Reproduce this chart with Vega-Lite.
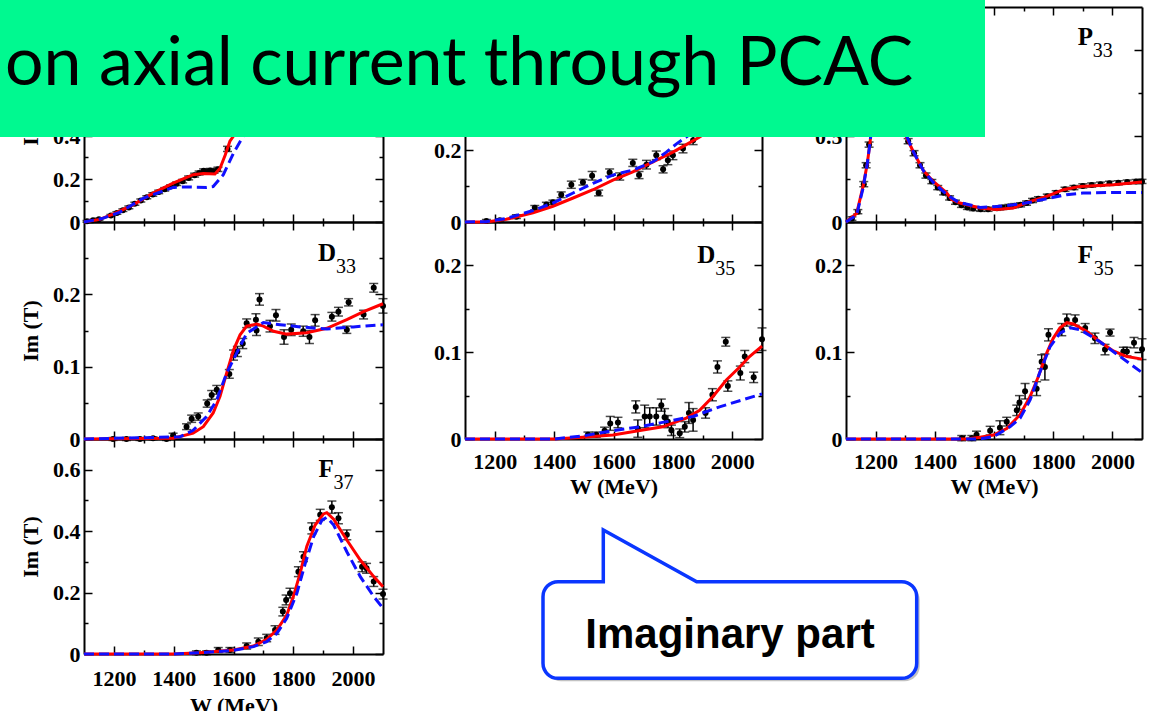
{
  "$schema": "https://vega.github.io/schema/vega-lite/v6.json",
  "width": 1149,
  "height": 711,
  "autosize": "none",
  "padding": 0,
  "background": "white",
  "config": {
    "view": {"stroke": null},
    "axis": {
      "grid": false,
      "domainColor": "black",
      "domainWidth": 2,
      "tickColor": "black",
      "tickWidth": 1.5,
      "labelFont": "Liberation Serif",
      "labelFontWeight": "bold",
      "labelFontSize": 22,
      "labelColor": "black",
      "labelFlush": false,
      "labelOverlap": false,
      "titleFont": "Liberation Serif",
      "titleFontWeight": "bold",
      "titleFontSize": 22,
      "titleColor": "black"
    }
  },
  "datasets": {
    "curves": [
      {"panel":"S31","model":"A","W":1100,"ImT":0},{"panel":"S31","model":"A","W":1153,"ImT":0.012},{"panel":"S31","model":"A","W":1203,"ImT":0.04},{"panel":"S31","model":"A","W":1264,"ImT":0.08},{"panel":"S31","model":"A","W":1331,"ImT":0.134},{"panel":"S31","model":"A","W":1398,"ImT":0.181},{"panel":"S31","model":"A","W":1465,"ImT":0.22},{"panel":"S31","model":"A","W":1499,"ImT":0.226},{"panel":"S31","model":"A","W":1538,"ImT":0.223},{"panel":"S31","model":"A","W":1555,"ImT":0.25},{"panel":"S31","model":"A","W":1572,"ImT":0.31},{"panel":"S31","model":"A","W":1588,"ImT":0.376},{"panel":"S31","model":"A","W":1600,"ImT":0.4},{"panel":"S31","model":"A","W":1620,"ImT":0.47},{"panel":"S31","model":"A","W":1650,"ImT":0.58},{"panel":"S31","model":"A","W":1700,"ImT":0.66},{"panel":"S31","model":"A","W":1800,"ImT":0.7},{"panel":"S31","model":"A","W":1900,"ImT":0.66},{"panel":"S31","model":"A","W":2000,"ImT":0.6},{"panel":"S31","model":"A","W":2100,"ImT":0.55},
      {"panel":"S31","model":"B","W":1100,"ImT":0},{"panel":"S31","model":"B","W":1160,"ImT":0.016},{"panel":"S31","model":"B","W":1219,"ImT":0.045},{"panel":"S31","model":"B","W":1298,"ImT":0.11},{"panel":"S31","model":"B","W":1398,"ImT":0.161},{"panel":"S31","model":"B","W":1443,"ImT":0.163},{"panel":"S31","model":"B","W":1510,"ImT":0.161},{"panel":"S31","model":"B","W":1532,"ImT":0.165},{"panel":"S31","model":"B","W":1566,"ImT":0.22},{"panel":"S31","model":"B","W":1600,"ImT":0.32},{"panel":"S31","model":"B","W":1633,"ImT":0.4},{"panel":"S31","model":"B","W":1660,"ImT":0.5},{"panel":"S31","model":"B","W":1720,"ImT":0.62},{"panel":"S31","model":"B","W":1800,"ImT":0.68},{"panel":"S31","model":"B","W":1900,"ImT":0.66},{"panel":"S31","model":"B","W":2000,"ImT":0.6},{"panel":"S31","model":"B","W":2100,"ImT":0.55},

      {"panel":"P31","model":"A","W":1100,"ImT":0},{"panel":"P31","model":"A","W":1172,"ImT":0},{"panel":"P31","model":"A","W":1239,"ImT":0.0075},{"panel":"P31","model":"A","W":1329,"ImT":0.026},{"panel":"P31","model":"A","W":1396,"ImT":0.044},{"panel":"P31","model":"A","W":1464,"ImT":0.067},{"panel":"P31","model":"A","W":1531,"ImT":0.09},{"panel":"P31","model":"A","W":1598,"ImT":0.117},{"panel":"P31","model":"A","W":1665,"ImT":0.14},{"panel":"P31","model":"A","W":1733,"ImT":0.168},{"panel":"P31","model":"A","W":1800,"ImT":0.195},{"panel":"P31","model":"A","W":1845,"ImT":0.216},{"panel":"P31","model":"A","W":1890,"ImT":0.237},{"panel":"P31","model":"A","W":1950,"ImT":0.27},{"panel":"P31","model":"A","W":2000,"ImT":0.3},{"panel":"P31","model":"A","W":2050,"ImT":0.33},{"panel":"P31","model":"A","W":2100,"ImT":0.36},
      {"panel":"P31","model":"B","W":1100,"ImT":0},{"panel":"P31","model":"B","W":1172,"ImT":0.001},{"panel":"P31","model":"B","W":1239,"ImT":0.01},{"panel":"P31","model":"B","W":1329,"ImT":0.032},{"panel":"P31","model":"B","W":1396,"ImT":0.053},{"panel":"P31","model":"B","W":1464,"ImT":0.081},{"panel":"P31","model":"B","W":1531,"ImT":0.108},{"panel":"P31","model":"B","W":1598,"ImT":0.131},{"panel":"P31","model":"B","W":1665,"ImT":0.145},{"panel":"P31","model":"B","W":1733,"ImT":0.168},{"panel":"P31","model":"B","W":1778,"ImT":0.195},{"panel":"P31","model":"B","W":1812,"ImT":0.218},{"panel":"P31","model":"B","W":1845,"ImT":0.237},{"panel":"P31","model":"B","W":1900,"ImT":0.27},{"panel":"P31","model":"B","W":2000,"ImT":0.33},{"panel":"P31","model":"B","W":2100,"ImT":0.38},

      {"panel":"P33","model":"A","W":1100,"ImT":0},{"panel":"P33","model":"A","W":1136,"ImT":0.05},{"panel":"P33","model":"A","W":1158,"ImT":0.21},{"panel":"P33","model":"A","W":1172,"ImT":0.34},{"panel":"P33","model":"A","W":1181,"ImT":0.46},{"panel":"P33","model":"A","W":1200,"ImT":0.75},{"panel":"P33","model":"A","W":1215,"ImT":0.92},{"panel":"P33","model":"A","W":1232,"ImT":1.0},{"panel":"P33","model":"A","W":1250,"ImT":0.93},{"panel":"P33","model":"A","W":1270,"ImT":0.74},{"panel":"P33","model":"A","W":1290,"ImT":0.58},{"panel":"P33","model":"A","W":1305,"ImT":0.49},{"panel":"P33","model":"A","W":1327,"ImT":0.41},{"panel":"P33","model":"A","W":1361,"ImT":0.3},{"panel":"P33","model":"A","W":1395,"ImT":0.236},{"panel":"P33","model":"A","W":1440,"ImT":0.17},{"panel":"P33","model":"A","W":1457,"ImT":0.13},{"panel":"P33","model":"A","W":1485,"ImT":0.11},{"panel":"P33","model":"A","W":1553,"ImT":0.081},{"panel":"P33","model":"A","W":1609,"ImT":0.072},{"panel":"P33","model":"A","W":1665,"ImT":0.081},{"panel":"P33","model":"A","W":1722,"ImT":0.12},{"panel":"P33","model":"A","W":1778,"ImT":0.149},{"panel":"P33","model":"A","W":1834,"ImT":0.188},{"panel":"P33","model":"A","W":1890,"ImT":0.207},{"panel":"P33","model":"A","W":2003,"ImT":0.217},{"panel":"P33","model":"A","W":2100,"ImT":0.232},
      {"panel":"P33","model":"B","W":1100,"ImT":0},{"panel":"P33","model":"B","W":1136,"ImT":0.04},{"panel":"P33","model":"B","W":1158,"ImT":0.2},{"panel":"P33","model":"B","W":1172,"ImT":0.34},{"panel":"P33","model":"B","W":1181,"ImT":0.46},{"panel":"P33","model":"B","W":1200,"ImT":0.75},{"panel":"P33","model":"B","W":1215,"ImT":0.92},{"panel":"P33","model":"B","W":1232,"ImT":1.0},{"panel":"P33","model":"B","W":1250,"ImT":0.93},{"panel":"P33","model":"B","W":1270,"ImT":0.74},{"panel":"P33","model":"B","W":1290,"ImT":0.58},{"panel":"P33","model":"B","W":1305,"ImT":0.5},{"panel":"P33","model":"B","W":1327,"ImT":0.41},{"panel":"P33","model":"B","W":1361,"ImT":0.3},{"panel":"P33","model":"B","W":1395,"ImT":0.23},{"panel":"P33","model":"B","W":1440,"ImT":0.16},{"panel":"P33","model":"B","W":1480,"ImT":0.115},{"panel":"P33","model":"B","W":1553,"ImT":0.085},{"panel":"P33","model":"B","W":1609,"ImT":0.09},{"panel":"P33","model":"B","W":1665,"ImT":0.1},{"panel":"P33","model":"B","W":1722,"ImT":0.115},{"panel":"P33","model":"B","W":1778,"ImT":0.135},{"panel":"P33","model":"B","W":1845,"ImT":0.159},{"panel":"P33","model":"B","W":1900,"ImT":0.168},{"panel":"P33","model":"B","W":2000,"ImT":0.172},{"panel":"P33","model":"B","W":2100,"ImT":0.172},

      {"panel":"D33","model":"A","W":1100,"ImT":0},{"panel":"D33","model":"A","W":1398,"ImT":0.001},{"panel":"D33","model":"A","W":1465,"ImT":0.008},{"panel":"D33","model":"A","W":1499,"ImT":0.017},{"panel":"D33","model":"A","W":1532,"ImT":0.036},{"panel":"D33","model":"A","W":1555,"ImT":0.059},{"panel":"D33","model":"A","W":1577,"ImT":0.091},{"panel":"D33","model":"A","W":1600,"ImT":0.123},{"panel":"D33","model":"A","W":1622,"ImT":0.144},{"panel":"D33","model":"A","W":1644,"ImT":0.156},{"panel":"D33","model":"A","W":1678,"ImT":0.159},{"panel":"D33","model":"A","W":1700,"ImT":0.156},{"panel":"D33","model":"A","W":1734,"ImT":0.149},{"panel":"D33","model":"A","W":1778,"ImT":0.145},{"panel":"D33","model":"A","W":1845,"ImT":0.147},{"panel":"D33","model":"A","W":1912,"ImT":0.153},{"panel":"D33","model":"A","W":1979,"ImT":0.165},{"panel":"D33","model":"A","W":2035,"ImT":0.176},{"panel":"D33","model":"A","W":2100,"ImT":0.187},
      {"panel":"D33","model":"B","W":1100,"ImT":0},{"panel":"D33","model":"B","W":1421,"ImT":0.003},{"panel":"D33","model":"B","W":1465,"ImT":0.012},{"panel":"D33","model":"B","W":1510,"ImT":0.031},{"panel":"D33","model":"B","W":1544,"ImT":0.054},{"panel":"D33","model":"B","W":1577,"ImT":0.091},{"panel":"D33","model":"B","W":1611,"ImT":0.119},{"panel":"D33","model":"B","W":1644,"ImT":0.146},{"panel":"D33","model":"B","W":1700,"ImT":0.161},{"panel":"D33","model":"B","W":1756,"ImT":0.158},{"panel":"D33","model":"B","W":1823,"ImT":0.155},{"panel":"D33","model":"B","W":1912,"ImT":0.152},{"panel":"D33","model":"B","W":2001,"ImT":0.155},{"panel":"D33","model":"B","W":2100,"ImT":0.158},

      {"panel":"D35","model":"A","W":1100,"ImT":0},{"panel":"D35","model":"A","W":1400,"ImT":0},{"panel":"D35","model":"A","W":1497,"ImT":0.002},{"panel":"D35","model":"A","W":1598,"ImT":0.0046},{"panel":"D35","model":"A","W":1699,"ImT":0.0104},{"panel":"D35","model":"A","W":1766,"ImT":0.014},{"panel":"D35","model":"A","W":1845,"ImT":0.024},{"panel":"D35","model":"A","W":1890,"ImT":0.033},{"panel":"D35","model":"A","W":1935,"ImT":0.049},{"panel":"D35","model":"A","W":1980,"ImT":0.068},{"panel":"D35","model":"A","W":2025,"ImT":0.083},{"panel":"D35","model":"A","W":2058,"ImT":0.095},{"panel":"D35","model":"A","W":2100,"ImT":0.107},
      {"panel":"D35","model":"B","W":1100,"ImT":0},{"panel":"D35","model":"B","W":1400,"ImT":0},{"panel":"D35","model":"B","W":1497,"ImT":0.0035},{"panel":"D35","model":"B","W":1598,"ImT":0.0096},{"panel":"D35","model":"B","W":1688,"ImT":0.014},{"panel":"D35","model":"B","W":1778,"ImT":0.02},{"panel":"D35","model":"B","W":1868,"ImT":0.026},{"panel":"D35","model":"B","W":1957,"ImT":0.037},{"panel":"D35","model":"B","W":2100,"ImT":0.052},

      {"panel":"F35","model":"A","W":1100,"ImT":0},{"panel":"F35","model":"A","W":1508,"ImT":0},{"panel":"F35","model":"A","W":1553,"ImT":0.002},{"panel":"F35","model":"A","W":1598,"ImT":0.0046},{"panel":"F35","model":"A","W":1643,"ImT":0.012},{"panel":"F35","model":"A","W":1688,"ImT":0.028},{"panel":"F35","model":"A","W":1722,"ImT":0.049},{"panel":"F35","model":"A","W":1750,"ImT":0.072},{"panel":"F35","model":"A","W":1778,"ImT":0.099},{"panel":"F35","model":"A","W":1800,"ImT":0.116},{"panel":"F35","model":"A","W":1823,"ImT":0.128},{"panel":"F35","model":"A","W":1846,"ImT":0.134},{"panel":"F35","model":"A","W":1868,"ImT":0.1326},{"panel":"F35","model":"A","W":1913,"ImT":0.124},{"panel":"F35","model":"A","W":1958,"ImT":0.112},{"panel":"F35","model":"A","W":2003,"ImT":0.1015},{"panel":"F35","model":"A","W":2049,"ImT":0.095},{"panel":"F35","model":"A","W":2100,"ImT":0.092},
      {"panel":"F35","model":"B","W":1100,"ImT":0},{"panel":"F35","model":"B","W":1550,"ImT":0},{"panel":"F35","model":"B","W":1598,"ImT":0.0027},{"panel":"F35","model":"B","W":1654,"ImT":0.014},{"panel":"F35","model":"B","W":1688,"ImT":0.024},{"panel":"F35","model":"B","W":1722,"ImT":0.045},{"panel":"F35","model":"B","W":1754,"ImT":0.076},{"panel":"F35","model":"B","W":1789,"ImT":0.106},{"panel":"F35","model":"B","W":1823,"ImT":0.122},{"panel":"F35","model":"B","W":1857,"ImT":0.128},{"panel":"F35","model":"B","W":1891,"ImT":0.126},{"panel":"F35","model":"B","W":1958,"ImT":0.112},{"panel":"F35","model":"B","W":2026,"ImT":0.095},{"panel":"F35","model":"B","W":2100,"ImT":0.0765},

      {"panel":"F37","model":"A","W":1100,"ImT":0},{"panel":"F37","model":"A","W":1398,"ImT":0},{"panel":"F37","model":"A","W":1488,"ImT":0.004},{"panel":"F37","model":"A","W":1600,"ImT":0.013},{"panel":"F37","model":"A","W":1667,"ImT":0.026},{"panel":"F37","model":"A","W":1711,"ImT":0.048},{"panel":"F37","model":"A","W":1745,"ImT":0.078},{"panel":"F37","model":"A","W":1778,"ImT":0.127},{"panel":"F37","model":"A","W":1800,"ImT":0.187},{"panel":"F37","model":"A","W":1823,"ImT":0.263},{"panel":"F37","model":"A","W":1845,"ImT":0.35},{"panel":"F37","model":"A","W":1873,"ImT":0.42},{"panel":"F37","model":"A","W":1901,"ImT":0.456},{"panel":"F37","model":"A","W":1912,"ImT":0.46},{"panel":"F37","model":"A","W":1935,"ImT":0.439},{"panel":"F37","model":"A","W":1979,"ImT":0.371},{"panel":"F37","model":"A","W":2024,"ImT":0.306},{"panel":"F37","model":"A","W":2069,"ImT":0.252},{"panel":"F37","model":"A","W":2100,"ImT":0.219},
      {"panel":"F37","model":"B","W":1100,"ImT":0},{"panel":"F37","model":"B","W":1398,"ImT":0},{"panel":"F37","model":"B","W":1488,"ImT":0.004},{"panel":"F37","model":"B","W":1600,"ImT":0.012},{"panel":"F37","model":"B","W":1667,"ImT":0.024},{"panel":"F37","model":"B","W":1711,"ImT":0.04},{"panel":"F37","model":"B","W":1745,"ImT":0.067},{"panel":"F37","model":"B","W":1778,"ImT":0.116},{"panel":"F37","model":"B","W":1812,"ImT":0.198},{"panel":"F37","model":"B","W":1840,"ImT":0.295},{"panel":"F37","model":"B","W":1868,"ImT":0.382},{"panel":"F37","model":"B","W":1896,"ImT":0.436},{"panel":"F37","model":"B","W":1912,"ImT":0.445},{"panel":"F37","model":"B","W":1935,"ImT":0.42},{"panel":"F37","model":"B","W":1979,"ImT":0.333},{"panel":"F37","model":"B","W":2024,"ImT":0.252},{"panel":"F37","model":"B","W":2069,"ImT":0.187},{"panel":"F37","model":"B","W":2100,"ImT":0.149}
    ],
    "points": [
      {"panel":"S31","W":1110,"ImT":0.003,"err":0.004},{"panel":"S31","W":1130,"ImT":0.008,"err":0.004},{"panel":"S31","W":1150,"ImT":0.013,"err":0.005},{"panel":"S31","W":1190,"ImT":0.03,"err":0.005},{"panel":"S31","W":1210,"ImT":0.042,"err":0.006},{"panel":"S31","W":1230,"ImT":0.055,"err":0.006},{"panel":"S31","W":1250,"ImT":0.068,"err":0.006},{"panel":"S31","W":1270,"ImT":0.085,"err":0.007},{"panel":"S31","W":1290,"ImT":0.1,"err":0.007},{"panel":"S31","W":1310,"ImT":0.115,"err":0.007},{"panel":"S31","W":1330,"ImT":0.128,"err":0.008},{"panel":"S31","W":1350,"ImT":0.14,"err":0.008},{"panel":"S31","W":1370,"ImT":0.152,"err":0.008},{"panel":"S31","W":1390,"ImT":0.165,"err":0.008},{"panel":"S31","W":1410,"ImT":0.178,"err":0.008},{"panel":"S31","W":1430,"ImT":0.19,"err":0.008},{"panel":"S31","W":1450,"ImT":0.205,"err":0.009},{"panel":"S31","W":1470,"ImT":0.218,"err":0.009},{"panel":"S31","W":1485,"ImT":0.228,"err":0.009},{"panel":"S31","W":1500,"ImT":0.238,"err":0.009},{"panel":"S31","W":1512,"ImT":0.232,"err":0.009},{"panel":"S31","W":1522,"ImT":0.24,"err":0.009},{"panel":"S31","W":1535,"ImT":0.236,"err":0.009},{"panel":"S31","W":1548,"ImT":0.245,"err":0.01},{"panel":"S31","W":1580,"ImT":0.34,"err":0.012},

      {"panel":"P31","W":1172,"ImT":0.003,"err":0.004},{"panel":"P31","W":1217,"ImT":0.005,"err":0.004},{"panel":"P31","W":1273,"ImT":0.015,"err":0.005},{"panel":"P31","W":1335,"ImT":0.04,"err":0.006},{"panel":"P31","W":1374,"ImT":0.049,"err":0.006},{"panel":"P31","W":1396,"ImT":0.055,"err":0.006},{"panel":"P31","W":1424,"ImT":0.076,"err":0.008},{"panel":"P31","W":1458,"ImT":0.104,"err":0.01},{"panel":"P31","W":1497,"ImT":0.111,"err":0.008},{"panel":"P31","W":1528,"ImT":0.129,"err":0.012},{"panel":"P31","W":1550,"ImT":0.081,"err":0.008},{"panel":"P31","W":1587,"ImT":0.138,"err":0.01},{"panel":"P31","W":1621,"ImT":0.127,"err":0.01},{"panel":"P31","W":1665,"ImT":0.165,"err":0.01},{"panel":"P31","W":1686,"ImT":0.131,"err":0.01},{"panel":"P31","W":1711,"ImT":0.16,"err":0.012},{"panel":"P31","W":1744,"ImT":0.186,"err":0.012},{"panel":"P31","W":1767,"ImT":0.147,"err":0.01},{"panel":"P31","W":1783,"ImT":0.172,"err":0.012},{"panel":"P31","W":1800,"ImT":0.186,"err":0.012},{"panel":"P31","W":1834,"ImT":0.205,"err":0.012},{"panel":"P31","W":1868,"ImT":0.228,"err":0.012},{"panel":"P31","W":1905,"ImT":0.27,"err":0.012},{"panel":"P31","W":1950,"ImT":0.3,"err":0.012},{"panel":"P31","W":2000,"ImT":0.32,"err":0.014},{"panel":"P31","W":2060,"ImT":0.35,"err":0.014},

      {"panel":"P33","W":1120,"ImT":0.02,"err":0.01},{"panel":"P33","W":1140,"ImT":0.06,"err":0.012},{"panel":"P33","W":1160,"ImT":0.22,"err":0.015},{"panel":"P33","W":1168,"ImT":0.33,"err":0.015},{"panel":"P33","W":1178,"ImT":0.45,"err":0.015},{"panel":"P33","W":1200,"ImT":0.78,"err":0.02},{"panel":"P33","W":1230,"ImT":0.99,"err":0.02},{"panel":"P33","W":1260,"ImT":0.83,"err":0.02},{"panel":"P33","W":1290,"ImT":0.6,"err":0.02},{"panel":"P33","W":1310,"ImT":0.47,"err":0.015},{"panel":"P33","W":1330,"ImT":0.4,"err":0.015},{"panel":"P33","W":1350,"ImT":0.33,"err":0.015},{"panel":"P33","W":1370,"ImT":0.27,"err":0.015},{"panel":"P33","W":1390,"ImT":0.235,"err":0.012},{"panel":"P33","W":1410,"ImT":0.2,"err":0.012},{"panel":"P33","W":1430,"ImT":0.17,"err":0.012},{"panel":"P33","W":1450,"ImT":0.14,"err":0.012},{"panel":"P33","W":1470,"ImT":0.115,"err":0.012},{"panel":"P33","W":1490,"ImT":0.097,"err":0.012},{"panel":"P33","W":1510,"ImT":0.085,"err":0.012},{"panel":"P33","W":1530,"ImT":0.078,"err":0.012},{"panel":"P33","W":1555,"ImT":0.074,"err":0.012},{"panel":"P33","W":1580,"ImT":0.074,"err":0.012},{"panel":"P33","W":1610,"ImT":0.08,"err":0.012},{"panel":"P33","W":1630,"ImT":0.085,"err":0.012},{"panel":"P33","W":1650,"ImT":0.09,"err":0.012},{"panel":"P33","W":1670,"ImT":0.095,"err":0.012},{"panel":"P33","W":1690,"ImT":0.1,"err":0.012},{"panel":"P33","W":1710,"ImT":0.11,"err":0.012},{"panel":"P33","W":1730,"ImT":0.125,"err":0.012},{"panel":"P33","W":1750,"ImT":0.135,"err":0.012},{"panel":"P33","W":1780,"ImT":0.15,"err":0.012},{"panel":"P33","W":1810,"ImT":0.17,"err":0.012},{"panel":"P33","W":1840,"ImT":0.19,"err":0.012},{"panel":"P33","W":1870,"ImT":0.2,"err":0.012},{"panel":"P33","W":1900,"ImT":0.21,"err":0.012},{"panel":"P33","W":1930,"ImT":0.215,"err":0.012},{"panel":"P33","W":1960,"ImT":0.22,"err":0.012},{"panel":"P33","W":1990,"ImT":0.225,"err":0.012},{"panel":"P33","W":2020,"ImT":0.228,"err":0.012},{"panel":"P33","W":2050,"ImT":0.232,"err":0.012},{"panel":"P33","W":2080,"ImT":0.235,"err":0.012},{"panel":"P33","W":2100,"ImT":0.236,"err":0.012},

      {"panel":"D33","W":1197,"ImT":0,"err":0.002},{"panel":"D33","W":1242,"ImT":0,"err":0.002},{"panel":"D33","W":1287,"ImT":0,"err":0.002},{"panel":"D33","W":1331,"ImT":0.001,"err":0.002},{"panel":"D33","W":1376,"ImT":0,"err":0.002},{"panel":"D33","W":1398,"ImT":0.005,"err":0.003},{"panel":"D33","W":1443,"ImT":0.017,"err":0.004},{"panel":"D33","W":1460,"ImT":0.028,"err":0.005},{"panel":"D33","W":1482,"ImT":0.031,"err":0.005},{"panel":"D33","W":1512,"ImT":0.049,"err":0.005},{"panel":"D33","W":1527,"ImT":0.061,"err":0.006},{"panel":"D33","W":1544,"ImT":0.068,"err":0.006},{"panel":"D33","W":1586,"ImT":0.09,"err":0.006},{"panel":"D33","W":1600,"ImT":0.116,"err":0.007},{"panel":"D33","W":1613,"ImT":0.121,"err":0.007},{"panel":"D33","W":1631,"ImT":0.132,"err":0.007},{"panel":"D33","W":1644,"ImT":0.16,"err":0.006},{"panel":"D33","W":1675,"ImT":0.165,"err":0.008},{"panel":"D33","W":1687,"ImT":0.193,"err":0.008},{"panel":"D33","W":1677,"ImT":0.15,"err":0.007},{"panel":"D33","W":1722,"ImT":0.156,"err":0.008},{"panel":"D33","W":1742,"ImT":0.171,"err":0.008},{"panel":"D33","W":1769,"ImT":0.141,"err":0.01},{"panel":"D33","W":1793,"ImT":0.151,"err":0.008},{"panel":"D33","W":1833,"ImT":0.149,"err":0.007},{"panel":"D33","W":1854,"ImT":0.141,"err":0.009},{"panel":"D33","W":1873,"ImT":0.164,"err":0.008},{"panel":"D33","W":1929,"ImT":0.169,"err":0.006},{"panel":"D33","W":1951,"ImT":0.176,"err":0.006},{"panel":"D33","W":1979,"ImT":0.151,"err":0.005},{"panel":"D33","W":1985,"ImT":0.189,"err":0.005},{"panel":"D33","W":2035,"ImT":0.172,"err":0.006},{"panel":"D33","W":2069,"ImT":0.209,"err":0.006},{"panel":"D33","W":2100,"ImT":0.184,"err":0.01},

      {"panel":"D35","W":1514,"ImT":0.005,"err":0.003},{"panel":"D35","W":1542,"ImT":0.005,"err":0.003},{"panel":"D35","W":1570,"ImT":0.0096,"err":0.004},{"panel":"D35","W":1589,"ImT":0.018,"err":0.008},{"panel":"D35","W":1615,"ImT":0.019,"err":0.006},{"panel":"D35","W":1675,"ImT":0.037,"err":0.007},{"panel":"D35","W":1682,"ImT":0.012,"err":0.01},{"panel":"D35","W":1705,"ImT":0.026,"err":0.013},{"panel":"D35","W":1722,"ImT":0.026,"err":0.01},{"panel":"D35","W":1744,"ImT":0.026,"err":0.01},{"panel":"D35","W":1761,"ImT":0.039,"err":0.007},{"panel":"D35","W":1772,"ImT":0.025,"err":0.01},{"panel":"D35","W":1783,"ImT":0.02,"err":0.007},{"panel":"D35","W":1795,"ImT":0.01,"err":0.006},{"panel":"D35","W":1823,"ImT":0.0066,"err":0.005},{"panel":"D35","W":1840,"ImT":0.014,"err":0.006},{"panel":"D35","W":1854,"ImT":0.03,"err":0.012},{"panel":"D35","W":1868,"ImT":0.022,"err":0.013},{"panel":"D35","W":1910,"ImT":0.03,"err":0.006},{"panel":"D35","W":1933,"ImT":0.051,"err":0.007},{"panel":"D35","W":1950,"ImT":0.083,"err":0.007},{"panel":"D35","W":1978,"ImT":0.112,"err":0.005},{"panel":"D35","W":1985,"ImT":0.061,"err":0.006},{"panel":"D35","W":2027,"ImT":0.076,"err":0.008},{"panel":"D35","W":2042,"ImT":0.095,"err":0.007},{"panel":"D35","W":2072,"ImT":0.071,"err":0.006},{"panel":"D35","W":2100,"ImT":0.115,"err":0.013},

      {"panel":"F35","W":1491,"ImT":0.001,"err":0.003},{"panel":"F35","W":1525,"ImT":0.001,"err":0.003},{"panel":"F35","W":1541,"ImT":0.005,"err":0.004},{"panel":"F35","W":1587,"ImT":0.0096,"err":0.005},{"panel":"F35","W":1620,"ImT":0.013,"err":0.008},{"panel":"F35","W":1643,"ImT":0.02,"err":0.005},{"panel":"F35","W":1677,"ImT":0.033,"err":0.006},{"panel":"F35","W":1686,"ImT":0.042,"err":0.008},{"panel":"F35","W":1705,"ImT":0.055,"err":0.009},{"panel":"F35","W":1744,"ImT":0.058,"err":0.008},{"panel":"F35","W":1761,"ImT":0.089,"err":0.008},{"panel":"F35","W":1772,"ImT":0.083,"err":0.015},{"panel":"F35","W":1784,"ImT":0.12,"err":0.007},{"panel":"F35","W":1829,"ImT":0.126,"err":0.007},{"panel":"F35","W":1846,"ImT":0.137,"err":0.007},{"panel":"F35","W":1874,"ImT":0.137,"err":0.006},{"panel":"F35","W":1908,"ImT":0.128,"err":0.005},{"panel":"F35","W":1941,"ImT":0.116,"err":0.006},{"panel":"F35","W":1975,"ImT":0.103,"err":0.006},{"panel":"F35","W":1992,"ImT":0.1226,"err":0.004},{"panel":"F35","W":2037,"ImT":0.1007,"err":0.005},{"panel":"F35","W":2049,"ImT":0.1007,"err":0.005},{"panel":"F35","W":2073,"ImT":0.111,"err":0.006},{"panel":"F35","W":2100,"ImT":0.1035,"err":0.012},

      {"panel":"F37","W":1476,"ImT":0.004,"err":0.006},{"panel":"F37","W":1510,"ImT":0.004,"err":0.006},{"panel":"F37","W":1549,"ImT":0.013,"err":0.008},{"panel":"F37","W":1588,"ImT":0.013,"err":0.008},{"panel":"F37","W":1644,"ImT":0.026,"err":0.01},{"panel":"F37","W":1683,"ImT":0.04,"err":0.012},{"panel":"F37","W":1711,"ImT":0.052,"err":0.012},{"panel":"F37","W":1739,"ImT":0.078,"err":0.014},{"panel":"F37","W":1765,"ImT":0.138,"err":0.014},{"panel":"F37","W":1776,"ImT":0.176,"err":0.016},{"panel":"F37","W":1789,"ImT":0.198,"err":0.016},{"panel":"F37","W":1817,"ImT":0.268,"err":0.016},{"panel":"F37","W":1834,"ImT":0.317,"err":0.016},{"panel":"F37","W":1862,"ImT":0.409,"err":0.018},{"panel":"F37","W":1890,"ImT":0.453,"err":0.018},{"panel":"F37","W":1929,"ImT":0.478,"err":0.02},{"panel":"F37","W":1951,"ImT":0.442,"err":0.018},{"panel":"F37","W":1979,"ImT":0.388,"err":0.016},{"panel":"F37","W":2030,"ImT":0.284,"err":0.016},{"panel":"F37","W":2045,"ImT":0.279,"err":0.016},{"panel":"F37","W":2069,"ImT":0.236,"err":0.016},{"panel":"F37","W":2100,"ImT":0.195,"err":0.016}
    ]
  },
  "layer": [
    {
      "layer": [
        {"data": {"name": "points"}, "transform": [{"filter": "datum.panel === 'S31'"}],
         "mark": {"type": "errorbar", "color": "black", "thickness": 1.5, "ticks": {"size": 9}},
         "encoding": {
           "x": {"field": "W", "type": "quantitative", "scale": {"domain": [1100, 2100], "range": [84, 383], "nice": false, "zero": false}, "axis": null},
           "y": {"field": "ImT", "type": "quantitative", "scale": {"domain": [0, 1], "range": [222, 7], "nice": false, "zero": false}, "axis": null},
           "yError": {"field": "err"}}},
        {"data": {"name": "points"}, "transform": [{"filter": "datum.panel === 'S31'"}],
         "mark": {"type": "circle", "size": 36, "color": "black", "opacity": 1},
         "encoding": {"x": {"field": "W", "type": "quantitative", "axis": null}, "y": {"field": "ImT", "type": "quantitative", "axis": null}}},
        {"data": {"name": "curves"}, "transform": [{"filter": "datum.panel === 'S31' && datum.model === 'A'"}],
         "mark": {"type": "line", "color": "#ff0000", "strokeWidth": 3},
         "encoding": {
           "x": {"field": "W", "type": "quantitative", "axis": {"orient": "bottom", "offset": -489, "values": [1200,1300,1400,1500,1600,1700,1800,1900,2000], "labels": false, "title": null, "tickSize": {"condition": {"test": "datum.value % 200 === 0", "value": -8}, "value": -4}}},
           "y": {"field": "ImT", "type": "quantitative", "axis": {"orient": "left", "offset": -84, "values": [0,0.1,0.2,0.3,0.4,0.5,0.6,0.7,0.8,0.9], "labelExpr": "datum.value === 0 || datum.value === 0.2 || datum.value === 0.4 ? format(datum.value, '~g') : ''", "tickSize": {"condition": {"test": "abs(datum.value*5 - round(datum.value*5)) < 0.000001", "value": -8}, "value": -4}, "labelPadding": 12, "title": "Im (T)", "titlePadding": 10}}}},
        {"data": {"name": "curves"}, "transform": [{"filter": "datum.panel === 'S31' && datum.model === 'B'"}],
         "mark": {"type": "line", "color": "#1010ff", "strokeWidth": 3, "strokeDash": [10, 5]},
         "encoding": {
           "x": {"field": "W", "type": "quantitative", "axis": {"orient": "top", "offset": -7, "values": [1200,1300,1400,1500,1600,1700,1800,1900,2000], "labels": false, "title": null, "tickSize": {"condition": {"test": "datum.value % 200 === 0", "value": -8}, "value": -4}}},
           "y": {"field": "ImT", "type": "quantitative", "axis": {"orient": "right", "offset": -766, "values": [0,0.1,0.2,0.3,0.4,0.5,0.6,0.7,0.8,0.9], "labels": false, "title": null, "tickSize": {"condition": {"test": "abs(datum.value*5 - round(datum.value*5)) < 0.000001", "value": -8}, "value": -4}}}}}
      ],
      "resolve": {"axis": {"x": "independent", "y": "independent"}}
    },
    {
      "layer": [
        {"data": {"name": "points"}, "transform": [{"filter": "datum.panel === 'P31'"}],
         "mark": {"type": "errorbar", "color": "black", "thickness": 1.5, "ticks": {"size": 9}},
         "encoding": {
           "x": {"field": "W", "type": "quantitative", "scale": {"domain": [1100, 2100], "range": [465, 762], "nice": false, "zero": false}, "axis": null},
           "y": {"field": "ImT", "type": "quantitative", "scale": {"domain": [0, 0.6], "range": [222, 7], "nice": false, "zero": false}, "axis": null},
           "yError": {"field": "err"}}},
        {"data": {"name": "points"}, "transform": [{"filter": "datum.panel === 'P31'"}],
         "mark": {"type": "circle", "size": 36, "color": "black", "opacity": 1},
         "encoding": {"x": {"field": "W", "type": "quantitative", "axis": null}, "y": {"field": "ImT", "type": "quantitative", "axis": null}}},
        {"data": {"name": "curves"}, "transform": [{"filter": "datum.panel === 'P31' && datum.model === 'A'"}],
         "mark": {"type": "line", "color": "#ff0000", "strokeWidth": 3},
         "encoding": {
           "x": {"field": "W", "type": "quantitative", "axis": {"orient": "bottom", "offset": -489, "values": [1200,1300,1400,1500,1600,1700,1800,1900,2000], "labels": false, "title": null, "tickSize": {"condition": {"test": "datum.value % 200 === 0", "value": -8}, "value": -4}}},
           "y": {"field": "ImT", "type": "quantitative", "axis": {"orient": "left", "offset": -465, "values": [0,0.1,0.2,0.3,0.4,0.5], "labelExpr": "datum.value === 0 || datum.value === 0.2 ? format(datum.value, '~g') : ''", "tickSize": {"condition": {"test": "abs(datum.value*5 - round(datum.value*5)) < 0.000001", "value": -8}, "value": -4}, "labelPadding": 12, "title": null}}}},
        {"data": {"name": "curves"}, "transform": [{"filter": "datum.panel === 'P31' && datum.model === 'B'"}],
         "mark": {"type": "line", "color": "#1010ff", "strokeWidth": 3, "strokeDash": [10, 5]},
         "encoding": {
           "x": {"field": "W", "type": "quantitative", "axis": {"orient": "top", "offset": -7, "values": [1200,1300,1400,1500,1600,1700,1800,1900,2000], "labels": false, "title": null, "tickSize": {"condition": {"test": "datum.value % 200 === 0", "value": -8}, "value": -4}}},
           "y": {"field": "ImT", "type": "quantitative", "axis": {"orient": "right", "offset": -387, "values": [0,0.1,0.2,0.3,0.4,0.5], "labels": false, "title": null, "tickSize": {"condition": {"test": "abs(datum.value*5 - round(datum.value*5)) < 0.000001", "value": -8}, "value": -4}}}}}
      ],
      "resolve": {"axis": {"x": "independent", "y": "independent"}}
    },
    {
      "layer": [
        {"data": {"name": "points"}, "transform": [{"filter": "datum.panel === 'P33'"}],
         "mark": {"type": "errorbar", "color": "black", "thickness": 1.5, "ticks": {"size": 9}},
         "encoding": {
           "x": {"field": "W", "type": "quantitative", "scale": {"domain": [1100, 2100], "range": [846, 1142], "nice": false, "zero": false}, "axis": null},
           "y": {"field": "ImT", "type": "quantitative", "scale": {"domain": [0, 1.25], "range": [222, 7], "nice": false, "zero": false}, "axis": null},
           "yError": {"field": "err"}}},
        {"data": {"name": "points"}, "transform": [{"filter": "datum.panel === 'P33'"}],
         "mark": {"type": "circle", "size": 36, "color": "black", "opacity": 1},
         "encoding": {"x": {"field": "W", "type": "quantitative", "axis": null}, "y": {"field": "ImT", "type": "quantitative", "axis": null}}},
        {"data": {"name": "curves"}, "transform": [{"filter": "datum.panel === 'P33' && datum.model === 'A'"}],
         "mark": {"type": "line", "color": "#ff0000", "strokeWidth": 3},
         "encoding": {
           "x": {"field": "W", "type": "quantitative", "axis": {"orient": "bottom", "offset": -489, "values": [1200,1300,1400,1500,1600,1700,1800,1900,2000], "labels": false, "title": null, "tickSize": {"condition": {"test": "datum.value % 200 === 0", "value": -8}, "value": -4}}},
           "y": {"field": "ImT", "type": "quantitative", "axis": {"orient": "left", "offset": -846, "values": [0,0.25,0.5,0.75,1], "labelExpr": "datum.value === 0 || datum.value === 0.5 ? format(datum.value, '~g') : ''", "tickSize": {"condition": {"test": "abs(datum.value*2 - round(datum.value*2)) < 0.000001", "value": -8}, "value": -4}, "labelPadding": 12, "title": null}}}},
        {"data": {"name": "curves"}, "transform": [{"filter": "datum.panel === 'P33' && datum.model === 'B'"}],
         "mark": {"type": "line", "color": "#1010ff", "strokeWidth": 3, "strokeDash": [10, 5]},
         "encoding": {
           "x": {"field": "W", "type": "quantitative", "axis": {"orient": "top", "offset": -7, "values": [1200,1300,1400,1500,1600,1700,1800,1900,2000], "labels": false, "title": null, "tickSize": {"condition": {"test": "datum.value % 200 === 0", "value": -8}, "value": -4}}},
           "y": {"field": "ImT", "type": "quantitative", "axis": {"orient": "right", "offset": -7, "values": [0,0.25,0.5,0.75,1], "labels": false, "title": null, "tickSize": {"condition": {"test": "abs(datum.value*2 - round(datum.value*2)) < 0.000001", "value": -8}, "value": -4}}}}},
        {"data": {"values": [{}]}, "mark": {"type": "text", "text": "P", "align": "left", "baseline": "alphabetic", "font": "Liberation Serif", "fontWeight": "bold", "fontSize": 25, "color": "black"},
         "encoding": {"x": {"datum": 1883, "type": "quantitative", "axis": null}, "y": {"datum": 1.031, "type": "quantitative", "axis": null}}},
        {"data": {"values": [{}]}, "mark": {"type": "text", "text": "33", "align": "left", "baseline": "alphabetic", "dx": 15, "dy": 12, "font": "Liberation Serif", "fontSize": 20, "color": "black"},
         "encoding": {"x": {"datum": 1883, "type": "quantitative", "axis": null}, "y": {"datum": 1.031, "type": "quantitative", "axis": null}}}
      ],
      "resolve": {"axis": {"x": "independent", "y": "independent"}}
    },
    {
      "layer": [
        {"data": {"name": "points"}, "transform": [{"filter": "datum.panel === 'D33'"}],
         "mark": {"type": "errorbar", "color": "black", "thickness": 1.5, "ticks": {"size": 9}},
         "encoding": {
           "x": {"field": "W", "type": "quantitative", "scale": {"domain": [1100, 2100], "range": [84, 383], "nice": false, "zero": false}, "axis": null},
           "y": {"field": "ImT", "type": "quantitative", "scale": {"domain": [0, 0.3], "range": [439, 222], "nice": false, "zero": false}, "axis": null},
           "yError": {"field": "err"}}},
        {"data": {"name": "points"}, "transform": [{"filter": "datum.panel === 'D33'"}],
         "mark": {"type": "circle", "size": 36, "color": "black", "opacity": 1},
         "encoding": {"x": {"field": "W", "type": "quantitative", "axis": null}, "y": {"field": "ImT", "type": "quantitative", "axis": null}}},
        {"data": {"name": "curves"}, "transform": [{"filter": "datum.panel === 'D33' && datum.model === 'A'"}],
         "mark": {"type": "line", "color": "#ff0000", "strokeWidth": 3},
         "encoding": {
           "x": {"field": "W", "type": "quantitative", "axis": {"orient": "bottom", "offset": -272, "values": [1200,1300,1400,1500,1600,1700,1800,1900,2000], "labels": false, "title": null, "tickSize": {"condition": {"test": "datum.value % 200 === 0", "value": -8}, "value": -4}}},
           "y": {"field": "ImT", "type": "quantitative", "axis": {"orient": "left", "offset": -84, "values": [0,0.05,0.1,0.15,0.2,0.25], "labelExpr": "abs(datum.value*10 - round(datum.value*10)) < 0.000001 ? format(datum.value, '~g') : ''", "tickSize": {"condition": {"test": "abs(datum.value*10 - round(datum.value*10)) < 0.000001", "value": -8}, "value": -4}, "labelPadding": 12, "title": "Im (T)", "titlePadding": 10}}}},
        {"data": {"name": "curves"}, "transform": [{"filter": "datum.panel === 'D33' && datum.model === 'B'"}],
         "mark": {"type": "line", "color": "#1010ff", "strokeWidth": 3, "strokeDash": [10, 5]},
         "encoding": {
           "x": {"field": "W", "type": "quantitative", "axis": {"orient": "top", "offset": -222, "values": [1200,1300,1400,1500,1600,1700,1800,1900,2000], "labels": false, "title": null, "tickSize": {"condition": {"test": "datum.value % 200 === 0", "value": -8}, "value": -4}}},
           "y": {"field": "ImT", "type": "quantitative", "axis": {"orient": "right", "offset": -766, "values": [0,0.05,0.1,0.15,0.2,0.25], "labels": false, "title": null, "tickSize": {"condition": {"test": "abs(datum.value*10 - round(datum.value*10)) < 0.000001", "value": -8}, "value": -4}}}}},
        {"data": {"values": [{}]}, "mark": {"type": "text", "text": "D", "align": "left", "baseline": "alphabetic", "font": "Liberation Serif", "fontWeight": "bold", "fontSize": 25, "color": "black"},
         "encoding": {"x": {"datum": 1883, "type": "quantitative", "axis": null}, "y": {"datum": 0.2456, "type": "quantitative", "axis": null}}},
        {"data": {"values": [{}]}, "mark": {"type": "text", "text": "33", "align": "left", "baseline": "alphabetic", "dx": 18, "dy": 12, "font": "Liberation Serif", "fontSize": 20, "color": "black"},
         "encoding": {"x": {"datum": 1883, "type": "quantitative", "axis": null}, "y": {"datum": 0.2456, "type": "quantitative", "axis": null}}}
      ],
      "resolve": {"axis": {"x": "independent", "y": "independent"}}
    },
    {
      "layer": [
        {"data": {"name": "points"}, "transform": [{"filter": "datum.panel === 'D35'"}],
         "mark": {"type": "errorbar", "color": "black", "thickness": 1.5, "ticks": {"size": 9}},
         "encoding": {
           "x": {"field": "W", "type": "quantitative", "scale": {"domain": [1100, 2100], "range": [465, 762], "nice": false, "zero": false}, "axis": null},
           "y": {"field": "ImT", "type": "quantitative", "scale": {"domain": [0, 0.25], "range": [439, 222], "nice": false, "zero": false}, "axis": null},
           "yError": {"field": "err"}}},
        {"data": {"name": "points"}, "transform": [{"filter": "datum.panel === 'D35'"}],
         "mark": {"type": "circle", "size": 36, "color": "black", "opacity": 1},
         "encoding": {"x": {"field": "W", "type": "quantitative", "axis": null}, "y": {"field": "ImT", "type": "quantitative", "axis": null}}},
        {"data": {"name": "curves"}, "transform": [{"filter": "datum.panel === 'D35' && datum.model === 'A'"}],
         "mark": {"type": "line", "color": "#ff0000", "strokeWidth": 3},
         "encoding": {
           "x": {"field": "W", "type": "quantitative", "axis": {"orient": "bottom", "offset": -272, "values": [1200,1300,1400,1500,1600,1700,1800,1900,2000], "labelExpr": "datum.value % 200 === 0 ? format(datum.value, 'd') : ''", "tickSize": {"condition": {"test": "datum.value % 200 === 0", "value": -8}, "value": -4}, "labelPadding": 20, "title": "W (MeV)", "titlePadding": 0}},
           "y": {"field": "ImT", "type": "quantitative", "axis": {"orient": "left", "offset": -465, "values": [0,0.05,0.1,0.15,0.2], "labelExpr": "abs(datum.value*10 - round(datum.value*10)) < 0.000001 ? format(datum.value, '~g') : ''", "tickSize": {"condition": {"test": "abs(datum.value*10 - round(datum.value*10)) < 0.000001", "value": -8}, "value": -4}, "labelPadding": 12, "title": null}}}},
        {"data": {"name": "curves"}, "transform": [{"filter": "datum.panel === 'D35' && datum.model === 'B'"}],
         "mark": {"type": "line", "color": "#1010ff", "strokeWidth": 3, "strokeDash": [10, 5]},
         "encoding": {
           "x": {"field": "W", "type": "quantitative", "axis": {"orient": "top", "offset": -222, "values": [1200,1300,1400,1500,1600,1700,1800,1900,2000], "labels": false, "title": null, "tickSize": {"condition": {"test": "datum.value % 200 === 0", "value": -8}, "value": -4}}},
           "y": {"field": "ImT", "type": "quantitative", "axis": {"orient": "right", "offset": -387, "values": [0,0.05,0.1,0.15,0.2], "labels": false, "title": null, "tickSize": {"condition": {"test": "abs(datum.value*10 - round(datum.value*10)) < 0.000001", "value": -8}, "value": -4}}}}},
        {"data": {"values": [{}]}, "mark": {"type": "text", "text": "D", "align": "left", "baseline": "alphabetic", "font": "Liberation Serif", "fontWeight": "bold", "fontSize": 25, "color": "black"},
         "encoding": {"x": {"datum": 1882, "type": "quantitative", "axis": null}, "y": {"datum": 0.2027, "type": "quantitative", "axis": null}}},
        {"data": {"values": [{}]}, "mark": {"type": "text", "text": "35", "align": "left", "baseline": "alphabetic", "dx": 18, "dy": 12, "font": "Liberation Serif", "fontSize": 20, "color": "black"},
         "encoding": {"x": {"datum": 1882, "type": "quantitative", "axis": null}, "y": {"datum": 0.2027, "type": "quantitative", "axis": null}}}
      ],
      "resolve": {"axis": {"x": "independent", "y": "independent"}}
    },
    {
      "layer": [
        {"data": {"name": "points"}, "transform": [{"filter": "datum.panel === 'F35'"}],
         "mark": {"type": "errorbar", "color": "black", "thickness": 1.5, "ticks": {"size": 9}},
         "encoding": {
           "x": {"field": "W", "type": "quantitative", "scale": {"domain": [1100, 2100], "range": [846, 1142], "nice": false, "zero": false}, "axis": null},
           "y": {"field": "ImT", "type": "quantitative", "scale": {"domain": [0, 0.25], "range": [439, 222], "nice": false, "zero": false}, "axis": null},
           "yError": {"field": "err"}}},
        {"data": {"name": "points"}, "transform": [{"filter": "datum.panel === 'F35'"}],
         "mark": {"type": "circle", "size": 36, "color": "black", "opacity": 1},
         "encoding": {"x": {"field": "W", "type": "quantitative", "axis": null}, "y": {"field": "ImT", "type": "quantitative", "axis": null}}},
        {"data": {"name": "curves"}, "transform": [{"filter": "datum.panel === 'F35' && datum.model === 'A'"}],
         "mark": {"type": "line", "color": "#ff0000", "strokeWidth": 3},
         "encoding": {
           "x": {"field": "W", "type": "quantitative", "axis": {"orient": "bottom", "offset": -272, "values": [1200,1300,1400,1500,1600,1700,1800,1900,2000], "labelExpr": "datum.value % 200 === 0 ? format(datum.value, 'd') : ''", "tickSize": {"condition": {"test": "datum.value % 200 === 0", "value": -8}, "value": -4}, "labelPadding": 20, "title": "W (MeV)", "titlePadding": 0}},
           "y": {"field": "ImT", "type": "quantitative", "axis": {"orient": "left", "offset": -846, "values": [0,0.05,0.1,0.15,0.2], "labelExpr": "abs(datum.value*10 - round(datum.value*10)) < 0.000001 ? format(datum.value, '~g') : ''", "tickSize": {"condition": {"test": "abs(datum.value*10 - round(datum.value*10)) < 0.000001", "value": -8}, "value": -4}, "labelPadding": 12, "title": null}}}},
        {"data": {"name": "curves"}, "transform": [{"filter": "datum.panel === 'F35' && datum.model === 'B'"}],
         "mark": {"type": "line", "color": "#1010ff", "strokeWidth": 3, "strokeDash": [10, 5]},
         "encoding": {
           "x": {"field": "W", "type": "quantitative", "axis": {"orient": "top", "offset": -222, "values": [1200,1300,1400,1500,1600,1700,1800,1900,2000], "labels": false, "title": null, "tickSize": {"condition": {"test": "datum.value % 200 === 0", "value": -8}, "value": -4}}},
           "y": {"field": "ImT", "type": "quantitative", "axis": {"orient": "right", "offset": -7, "values": [0,0.05,0.1,0.15,0.2], "labels": false, "title": null, "tickSize": {"condition": {"test": "abs(datum.value*10 - round(datum.value*10)) < 0.000001", "value": -8}, "value": -4}}}}},
        {"data": {"values": [{}]}, "mark": {"type": "text", "text": "F", "align": "left", "baseline": "alphabetic", "font": "Liberation Serif", "fontWeight": "bold", "fontSize": 25, "color": "black"},
         "encoding": {"x": {"datum": 1883, "type": "quantitative", "axis": null}, "y": {"datum": 0.2027, "type": "quantitative", "axis": null}}},
        {"data": {"values": [{}]}, "mark": {"type": "text", "text": "35", "align": "left", "baseline": "alphabetic", "dx": 16, "dy": 12, "font": "Liberation Serif", "fontSize": 20, "color": "black"},
         "encoding": {"x": {"datum": 1883, "type": "quantitative", "axis": null}, "y": {"datum": 0.2027, "type": "quantitative", "axis": null}}}
      ],
      "resolve": {"axis": {"x": "independent", "y": "independent"}}
    },
    {
      "layer": [
        {"data": {"name": "points"}, "transform": [{"filter": "datum.panel === 'F37'"}],
         "mark": {"type": "errorbar", "color": "black", "thickness": 1.5, "ticks": {"size": 9}},
         "encoding": {
           "x": {"field": "W", "type": "quantitative", "scale": {"domain": [1100, 2100], "range": [84, 383], "nice": false, "zero": false}, "axis": null},
           "y": {"field": "ImT", "type": "quantitative", "scale": {"domain": [0, 0.7], "range": [654, 439], "nice": false, "zero": false}, "axis": null},
           "yError": {"field": "err"}}},
        {"data": {"name": "points"}, "transform": [{"filter": "datum.panel === 'F37'"}],
         "mark": {"type": "circle", "size": 36, "color": "black", "opacity": 1},
         "encoding": {"x": {"field": "W", "type": "quantitative", "axis": null}, "y": {"field": "ImT", "type": "quantitative", "axis": null}}},
        {"data": {"name": "curves"}, "transform": [{"filter": "datum.panel === 'F37' && datum.model === 'A'"}],
         "mark": {"type": "line", "color": "#ff0000", "strokeWidth": 3},
         "encoding": {
           "x": {"field": "W", "type": "quantitative", "axis": {"orient": "bottom", "offset": -57, "values": [1200,1300,1400,1500,1600,1700,1800,1900,2000], "labelExpr": "datum.value % 200 === 0 ? format(datum.value, 'd') : ''", "tickSize": {"condition": {"test": "datum.value % 200 === 0", "value": -8}, "value": -4}, "labelPadding": 22, "title": "W (MeV)", "titlePadding": 2}},
           "y": {"field": "ImT", "type": "quantitative", "axis": {"orient": "left", "offset": -84, "values": [0,0.1,0.2,0.3,0.4,0.5,0.6], "labelExpr": "abs(datum.value*5 - round(datum.value*5)) < 0.000001 ? format(datum.value, '~g') : ''", "tickSize": {"condition": {"test": "abs(datum.value*5 - round(datum.value*5)) < 0.000001", "value": -8}, "value": -4}, "labelPadding": 12, "title": "Im (T)", "titlePadding": 10}}}},
        {"data": {"name": "curves"}, "transform": [{"filter": "datum.panel === 'F37' && datum.model === 'B'"}],
         "mark": {"type": "line", "color": "#1010ff", "strokeWidth": 3, "strokeDash": [10, 5]},
         "encoding": {
           "x": {"field": "W", "type": "quantitative", "axis": {"orient": "top", "offset": -439, "values": [1200,1300,1400,1500,1600,1700,1800,1900,2000], "labels": false, "title": null, "tickSize": {"condition": {"test": "datum.value % 200 === 0", "value": -8}, "value": -4}}},
           "y": {"field": "ImT", "type": "quantitative", "axis": {"orient": "right", "offset": -766, "values": [0,0.1,0.2,0.3,0.4,0.5,0.6], "labels": false, "title": null, "tickSize": {"condition": {"test": "abs(datum.value*5 - round(datum.value*5)) < 0.000001", "value": -8}, "value": -4}}}}},
        {"data": {"values": [{}]}, "mark": {"type": "text", "text": "F", "align": "left", "baseline": "alphabetic", "font": "Liberation Serif", "fontWeight": "bold", "fontSize": 25, "color": "black"},
         "encoding": {"x": {"datum": 1884, "type": "quantitative", "axis": null}, "y": {"datum": 0.5775, "type": "quantitative", "axis": null}}},
        {"data": {"values": [{}]}, "mark": {"type": "text", "text": "37", "align": "left", "baseline": "alphabetic", "dx": 15, "dy": 12, "font": "Liberation Serif", "fontSize": 20, "color": "black"},
         "encoding": {"x": {"datum": 1884, "type": "quantitative", "axis": null}, "y": {"datum": 0.5775, "type": "quantitative", "axis": null}}}
      ],
      "resolve": {"axis": {"x": "independent", "y": "independent"}}
    },
    {"data": {"values": [{}]}, "mark": {"type": "rect", "color": "#00f990", "x": 0, "x2": 985, "y": 0, "y2": 137}, "encoding": {}},
    {"data": {"values": [{}]}, "mark": {"type": "text", "text": "on axial current through PCAC", "x": 5, "y": 85, "align": "left", "baseline": "alphabetic", "font": "Lato", "fontSize": 68, "color": "black"}, "encoding": {}},
    {"data": {"values": [{}]}, "mark": {"type": "point", "shape": "M15,51.7L60.3,51.7L60.3,0L153.7,51.7L358.7,51.7A15,15,0,0,1,373.7,66.7L373.7,133.3A15,15,0,0,1,358.7,148.3L15,148.3A15,15,0,0,1,0,133.3L0,66.7A15,15,0,0,1,15,51.7Z", "size": 4, "x": 546, "y": 533, "fill": "#777777", "fillOpacity": 0.45, "strokeWidth": 0, "opacity": 1}, "encoding": {}},
    {"data": {"values": [{}]}, "mark": {"type": "point", "shape": "M15,51.7L60.3,51.7L60.3,0L153.7,51.7L358.7,51.7A15,15,0,0,1,373.7,66.7L373.7,133.3A15,15,0,0,1,358.7,148.3L15,148.3A15,15,0,0,1,0,133.3L0,66.7A15,15,0,0,1,15,51.7Z", "size": 4, "x": 543, "y": 530, "fill": "white", "fillOpacity": 1, "stroke": "#0a36ff", "strokeWidth": 3.5, "opacity": 1}, "encoding": {}},
    {"data": {"values": [{}]}, "mark": {"type": "text", "text": "Imaginary part", "x": 730, "y": 648, "align": "center", "baseline": "alphabetic", "font": "Liberation Sans", "fontWeight": "bold", "fontSize": 42, "color": "black"}, "encoding": {}}
  ],
  "resolve": {"scale": {"x": "independent", "y": "independent"}, "axis": {"x": "independent", "y": "independent"}}
}
